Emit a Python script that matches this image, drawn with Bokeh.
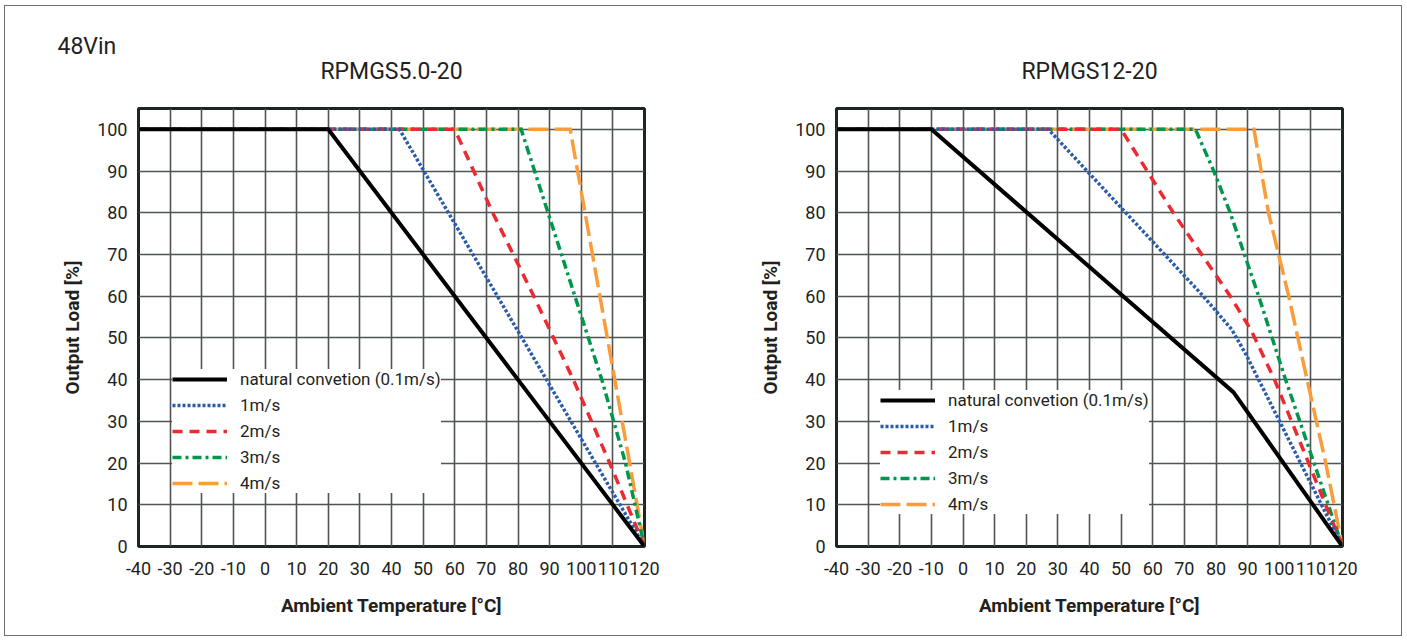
from bokeh.plotting import figure
from bokeh.models import FixedTicker, Legend, LegendItem, Title
from bokeh.layouts import row
from bokeh.embed import file_html
from bokeh.resources import INLINE

FONT = "Roboto"
TXT = "#231f20"

# ---------------- data ----------------
vin_label = "48Vin"
titles = ["RPMGS5.0-20", "RPMGS12-20"]
x_label = "Ambient Temperature [°C]"
y_label = "Output Load [%]"
series_labels = ["natural convetion (0.1m/s)", "1m/s", "2m/s", "3m/s", "4m/s"]

x_ticks = [-40, -30, -20, -10, 0, 10, 20, 30, 40, 50, 60, 70, 80, 90, 100, 110, 120]
y_ticks = [0, 10, 20, 30, 40, 50, 60, 70, 80, 90, 100]

# RPMGS5.0-20
L_nat_t = [-40, 20, 120]
L_nat_p = [100, 100, 0]
L_1_t = [-40, 42.5, 120]
L_1_p = [100, 100, 0]
L_2_t = [-40, 60, 72, 85, 97.5, 109, 120]
L_2_p = [100, 100, 80, 60, 40, 20, 0]
L_3_t = [-40, 81, 89.5, 98, 106.5, 114, 120]
L_3_p = [100, 100, 80, 60, 40, 20, 0]
L_4_t = [-40, 96.5, 120]
L_4_p = [100, 100, 0]

# RPMGS12-20
R_nat_t = [-40, -10, 85.5, 120]
R_nat_p = [100, 100, 37, 0]
R_1_t = [-40, 27, 51.5, 76, 85, 89.5, 120]
R_1_p = [100, 100, 80, 60, 52, 46, 0]
R_2_t = [-40, 50, 66.5, 84.5, 91, 98.5, 109.3, 120]
R_2_p = [100, 100, 80, 60, 52, 40, 20, 0]
R_3_t = [-40, 73.5, 79.3, 84.5, 93.5, 102, 111, 120]
R_3_p = [100, 100, 90, 80, 60, 40, 20, 0]
R_4_t = [-40, 92, 96.6, 103, 108.8, 114.7, 120]
R_4_p = [100, 100, 80, 60, 40, 20, 0]

# ---------------- styles ----------------
colors = ["#000000", "#2b5ca9", "#ec2a32", "#00974b", "#f99d3c"]
dashes = ["solid", "3 2", "10 7", "9 4 3 4", "20 6"]
widths = [4, 3.5, 3.5, 3.5, 3.5]


def make_plot(title, temps, loads, min_left, min_right, legend_loc, add_vin=False):
    p = figure(frame_width=506, frame_height=438,
               x_range=(-40, 120), y_range=(0, 105),
               min_border_left=min_left, min_border_right=min_right,
               min_border_top=102, min_border_bottom=89,
               output_backend="svg", toolbar_location=None,
               background_fill_color="white", border_fill_color="white")

    if add_vin:
        p.add_layout(Title(text=title, align="center", standoff=47,
                           text_font=FONT, text_font_size="23px",
                           text_font_style="normal", text_color=TXT), "above")
        p.title.text = vin_label
        p.title.align = "left"
        p.title.offset = -81
        p.title.standoff = -54
    else:
        p.title.text = title
        p.title.align = "center"
        p.title.standoff = 47
    p.title.text_font = FONT
    p.title.text_font_size = "23px"
    p.title.text_font_style = "normal"
    p.title.text_color = TXT

    p.outline_line_color = "#1c2625"
    p.outline_line_width = 3
    p.outline_line_alpha = 1

    p.xaxis.ticker = FixedTicker(ticks=x_ticks)
    p.yaxis.ticker = FixedTicker(ticks=y_ticks)
    p.xaxis.major_label_overrides = {t: str(t) for t in x_ticks}
    p.yaxis.major_label_overrides = {t: str(t) for t in y_ticks}
    for ax in (p.xaxis[0], p.yaxis[0]):
        ax.axis_line_color = None
        ax.major_tick_line_color = None
        ax.minor_tick_line_color = None
        ax.major_tick_out = 0
        ax.major_tick_in = 0
        ax.major_label_text_font = FONT
        ax.major_label_text_font_size = "18px"
        ax.major_label_text_color = TXT
        ax.axis_label_text_font = FONT
        ax.axis_label_text_font_size = "19px"
        ax.axis_label_text_font_style = "bold"
        ax.axis_label_text_color = TXT
    p.xaxis.axis_label = x_label
    p.yaxis.axis_label = y_label
    p.xaxis.major_label_standoff = 15
    p.yaxis.major_label_standoff = 11
    p.xaxis.axis_label_standoff = 16
    p.yaxis.axis_label_standoff = 10

    p.xgrid.ticker = FixedTicker(ticks=list(range(-30, 120, 10)))
    p.ygrid.ticker = FixedTicker(ticks=list(range(10, 101, 10)))
    for g in (p.xgrid[0], p.ygrid[0]):
        g.grid_line_color = "#4e5554"
        g.grid_line_width = 1.6
        g.grid_line_alpha = 1

    renderers = []
    for i in range(5):
        r = p.line(temps[i], loads[i], line_color=colors[i], line_width=widths[i],
                   line_dash=dashes[i], line_join="miter", line_cap="butt")
        renderers.append(r)
    # draw order: orange bottom, black top
    p.renderers = [renderers[4], renderers[3], renderers[2], renderers[1], renderers[0]]

    items = [LegendItem(label=series_labels[i], renderers=[renderers[i]]) for i in range(5)]
    leg = Legend(items=items, location=legend_loc,
                 label_text_font=FONT, label_text_font_size="17px", label_text_color=TXT,
                 glyph_width=55, glyph_height=18, label_height=18, label_standoff=13,
                 spacing=6, padding=14, margin=0,
                 border_line_color=None, background_fill_color="white",
                 background_fill_alpha=1)
    p.add_layout(leg)
    return p


p1 = make_plot(titles[0],
               [L_nat_t, L_1_t, L_2_t, L_3_t, L_4_t],
               [L_nat_p, L_1_p, L_2_p, L_3_p, L_4_p],
               133, 56, (34, 53), add_vin=True)
p2 = make_plot(titles[1],
               [R_nat_t, R_1_t, R_2_t, R_3_t, R_4_t],
               [R_nat_p, R_1_p, R_2_p, R_3_p, R_4_p],
               136, 59, (44, 32))

layout = row(p1, p2, styles={"border": "1px solid #6d6e71",
                             "margin-left": "4px", "margin-top": "5px"})

with open("out.html", "w") as f:
    f.write(file_html(layout, INLINE))
